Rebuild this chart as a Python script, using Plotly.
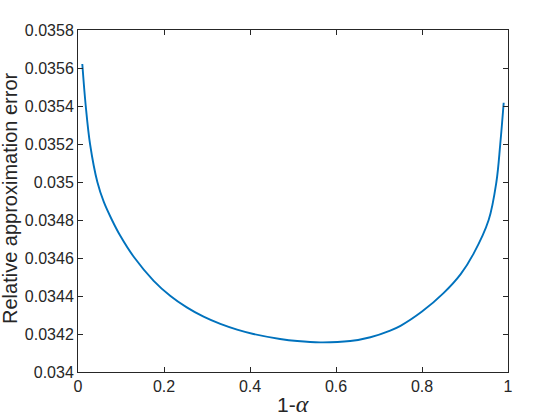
import plotly.graph_objects as go

# Data
one_minus_alpha = [0.01, 0.018, 0.028, 0.045, 0.06, 0.079, 0.098, 0.13, 0.176, 0.215, 0.253,
                   0.292, 0.331, 0.370, 0.408, 0.47, 0.51, 0.563, 0.633, 0.68, 0.726,
                   0.75, 0.8, 0.85, 0.89, 0.92, 0.955, 0.973, 0.982, 0.99]
rel_error = [0.035621, 0.03540, 0.03520, 0.03500, 0.034895, 0.03480, 0.034718, 0.034605,
             0.034480, 0.034400, 0.034340, 0.034291, 0.034253, 0.034223, 0.034200,
             0.034174, 0.034163, 0.034156, 0.034163, 0.034183, 0.034218, 0.034243,
             0.034318, 0.034415, 0.034515, 0.034623, 0.0348, 0.0350, 0.0352, 0.035417]

x_tickvals = [0, 0.2, 0.4, 0.6, 0.8, 1]
x_ticktext = ["0", "0.2", "0.4", "0.6", "0.8", "1"]
y_tickvals = [0.034, 0.0342, 0.0344, 0.0346, 0.0348, 0.035, 0.0352, 0.0354, 0.0356, 0.0358]
y_ticktext = ["0.034", "0.0342", "0.0344", "0.0346", "0.0348", "0.035",
              "0.0352", "0.0354", "0.0356", "0.0358"]

x_label = "1-<span style='font-family:\"Liberation Serif\";font-size:24px'><i>α</i></span>"
y_label = "Relative approximation error"

axis_color = "#262626"
font_family = "Liberation Sans, Arial, Helvetica, sans-serif"

fig = go.Figure()
fig.add_trace(go.Scatter(x=one_minus_alpha, y=rel_error, mode="lines",
                         line=dict(color="#0072BD", width=1.9, shape="spline", smoothing=1.0),
                         showlegend=False))

common = dict(showgrid=False, zeroline=False, showline=True, linecolor=axis_color,
              linewidth=1, mirror="ticks", ticks="inside", ticklen=5, tickwidth=1,
              tickcolor=axis_color, tickfont=dict(family=font_family, size=16, color=axis_color))

fig.update_xaxes(range=[0, 1], tickvals=x_tickvals, ticktext=x_ticktext, **common)
fig.update_yaxes(range=[0.034, 0.0358], tickvals=y_tickvals, ticktext=y_ticktext, **common)

L, R, T, B = 78, 52, 30, 48
W, H = 560, 420
pw, ph = W - L - R, H - T - B

fig.add_annotation(text=x_label, xref="paper", yref="paper", x=0.5,
                   y=-(404 - (H - B)) / ph,
                   xanchor="center", yanchor="middle", showarrow=False,
                   font=dict(family=font_family, size=21, color=axis_color))
fig.add_annotation(text=y_label, xref="paper", yref="paper", x=(10 - L) / pw,
                   y=(H - B - 198) / ph, xanchor="center", yanchor="middle", textangle=-90,
                   showarrow=False, font=dict(family=font_family, size=20, color=axis_color))

fig.update_layout(width=W, height=H, margin=dict(l=L, r=R, t=T, b=B, pad=0),
                  plot_bgcolor="white", paper_bgcolor="white",
                  font=dict(family=font_family, color=axis_color))

fig.write_html("out.html", config={"displayModeBar": False},
               post_script="document.body.style.margin='0';document.body.style.overflow='hidden';")
